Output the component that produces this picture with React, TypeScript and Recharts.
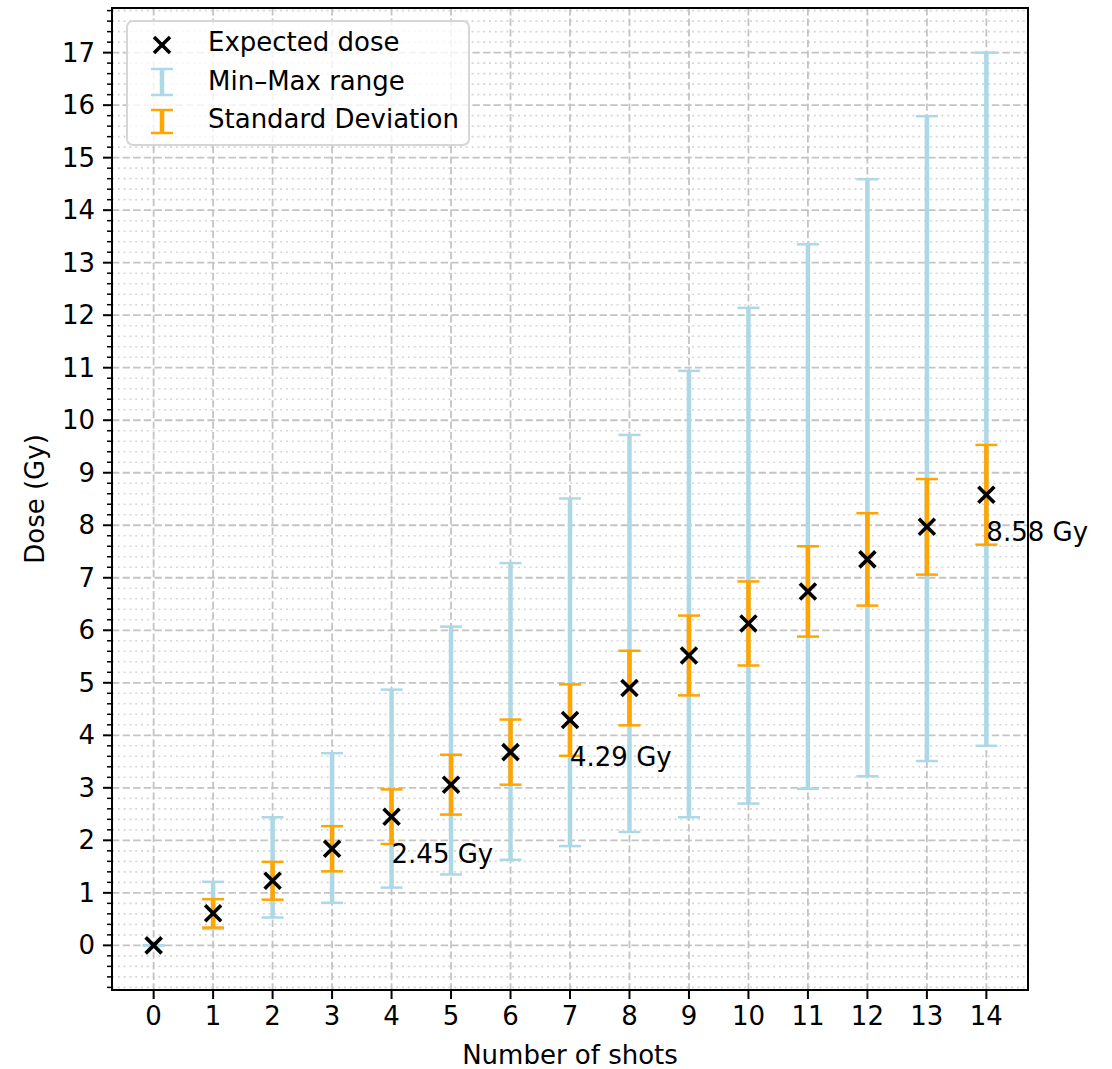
import {
  ScatterChart,
  Scatter,
  XAxis,
  YAxis,
  CartesianGrid,
  ErrorBar,
  ReferenceArea,
} from "recharts"

// values
const shots = [0, 1, 2, 3, 4, 5, 6, 7, 8, 9, 10, 11, 12, 13, 14]
const expectedDose = [0, 0.61, 1.23, 1.84, 2.45, 3.06, 3.68, 4.29, 4.9, 5.52, 6.13, 6.74, 7.35, 7.97, 8.58]
const stdDose = [0, 0.27, 0.36, 0.43, 0.52, 0.57, 0.62, 0.68, 0.71, 0.76, 0.8, 0.86, 0.88, 0.91, 0.95]
const minDose = [0, 0.31, 0.53, 0.81, 1.1, 1.35, 1.63, 1.89, 2.16, 2.44, 2.7, 2.98, 3.22, 3.51, 3.8]
const maxDose = [0, 1.21, 2.44, 3.66, 4.87, 6.07, 7.28, 8.51, 9.72, 10.94, 12.14, 13.35, 14.59, 15.79, 17.0]
const annotatedShots = [4, 7, 14]

const xTicks = [0, 1, 2, 3, 4, 5, 6, 7, 8, 9, 10, 11, 12, 13, 14]
const yMajorTicks = [0, 1, 2, 3, 4, 5, 6, 7, 8, 9, 10, 11, 12, 13, 14, 15, 16, 17]
const xDomain = [-0.7, 14.7]
const yDomain = [-0.85, 17.85]

// minor ticks every 0.2
const yAllTicks: number[] = []
for (let i = -4; i <= 89; i++) yAllTicks.push(Math.round(i * 2) / 10)
const yMinorTicks = yAllTicks.filter((v) => Math.abs(v - Math.round(v)) > 1e-6)

const data = shots.map((s, i) => ({
  x: s,
  y: expectedDose[i],
  range: [expectedDose[i] - minDose[i], maxDose[i] - expectedDose[i]],
  sd: stdDose[i],
}))

const labelData = annotatedShots.map((s) => ({
  x: s,
  y: expectedDose[s],
  text: `${expectedDose[s].toFixed(2)} Gy`,
}))

const FONT = "DejaVu Sans"
const FS = 26
const BLUE = "#add8e6"
const ORANGE = "#ffa500"

const Cross = (props: any) => {
  const { cx, cy } = props
  const h = 8
  return (
    <g stroke="#000" strokeWidth={3.6}>
      <line x1={cx - h} y1={cy - h} x2={cx + h} y2={cy + h} />
      <line x1={cx - h} y1={cy + h} x2={cx + h} y2={cy - h} />
    </g>
  )
}

const AnnotText = (props: any) => {
  const { cx, cy, payload } = props
  return (
    <text x={cx} y={cy + 37} dominantBaseline="central" fontSize={FS} fontFamily={FONT} fill="#000">
      {payload.text}
    </text>
  )
}

const YTick = (props: any) => {
  const { x, y, payload } = props
  const v = payload.value
  const major = Math.abs(v - Math.round(v)) < 1e-6
  const ax = x + 17
  return (
    <g>
      <line x1={ax - (major ? 9 : 5)} x2={ax} y1={y} y2={y} stroke="#000" strokeWidth={major ? 2 : 1.5} />
      {major && (
        <text x={x} y={y} textAnchor="end" dominantBaseline="central" fontSize={FS} fontFamily={FONT} fill="#000">
          {Math.round(v)}
        </text>
      )}
    </g>
  )
}

function LegendBox() {
  const mx = 162
  const tx = 208
  return (
    <svg width={1112} height={1069} style={{ position: "absolute", left: 0, top: 0, pointerEvents: "none" }}>
      <rect x={127} y={21} width={342} height={124} rx={6} fill="rgba(255,255,255,0.8)" stroke="#d6d6d6" strokeWidth={2} />
      <g stroke="#000" strokeWidth={3.6}>
        <line x1={mx - 8} y1={45 - 8} x2={mx + 8} y2={45 + 8} />
        <line x1={mx - 8} y1={45 + 8} x2={mx + 8} y2={45 - 8} />
      </g>
      <g stroke={BLUE}>
        <line x1={mx} x2={mx} y1={69} y2={95} strokeWidth={4.5} />
        <line x1={mx - 11} x2={mx + 11} y1={69} y2={69} strokeWidth={2.5} />
        <line x1={mx - 11} x2={mx + 11} y1={95} y2={95} strokeWidth={2.5} />
      </g>
      <g stroke={ORANGE}>
        <line x1={mx} x2={mx} y1={110} y2={133} strokeWidth={4.5} />
        <line x1={mx - 11} x2={mx + 11} y1={110} y2={110} strokeWidth={2.5} />
        <line x1={mx - 11} x2={mx + 11} y1={133} y2={133} strokeWidth={2.5} />
      </g>
      <g fontSize={FS} fontFamily={FONT} fill="#000" dominantBaseline="central">
        <text x={tx} y={42}>Expected dose</text>
        <text x={tx} y={81}>Min–Max range</text>
        <text x={tx} y={119}>Standard Deviation</text>
      </g>
    </svg>
  )
}

export default function App() {
  return (
    <div style={{ position: "absolute", left: 0, top: 0, width: 1112, height: 1069, fontFamily: FONT, background: "#fff" }}>
      <ScatterChart width={1112} height={1069} margin={{ top: 8, right: 84, bottom: 0, left: 0 }}>
        <CartesianGrid
          horizontalValues={yMinorTicks}
          vertical={false}
          stroke="#d6d6d6"
          strokeWidth={1.6}
          strokeDasharray="2 3.8"
        />
        <CartesianGrid
          horizontalValues={yMajorTicks}
          verticalValues={xTicks}
          stroke="#c4c4c4"
          strokeWidth={1.8}
          strokeDasharray="7.4 3.2"
        />
        <XAxis
          type="number"
          dataKey="x"
          domain={xDomain}
          ticks={xTicks}
          interval={0}
          height={79}
          tickSize={9}
          tickMargin={8}
          axisLine={false}
          tickLine={{ stroke: "#000", strokeWidth: 2 }}
          tick={{ fill: "#000", fontSize: FS, fontFamily: FONT }}
          label={(p: any) => {
            const vb = p.viewBox
            return (
              <text x={vb.x + vb.width / 2} y={1055} textAnchor="middle" dominantBaseline="central" fontSize={FS} fontFamily={FONT} fill="#000">
                Number of shots
              </text>
            )
          }}
        />
        <YAxis
          type="number"
          dataKey="y"
          domain={yDomain}
          ticks={yAllTicks}
          interval={0}
          width={112}
          tickSize={9}
          tickMargin={8}
          axisLine={false}
          tickLine={false}
          tick={<YTick />}
          label={(p: any) => {
            const vb = p.viewBox
            const cx = vb.x + 35
            const cy = vb.y + vb.height / 2
            return (
              <text x={cx} y={cy} transform={`rotate(-90 ${cx} ${cy})`} textAnchor="middle" dominantBaseline="central" fontSize={FS} fontFamily={FONT} fill="#000">
                Dose (Gy)
              </text>
            )
          }}
        />
        <Scatter data={data} shape={<Cross />} isAnimationActive={false}>
          <ErrorBar dataKey="range" direction="y" width={0} stroke={BLUE} strokeWidth={4.5} />
          <ErrorBar dataKey="range" direction="y" width={11} stroke={BLUE} strokeWidth={2.5} />
          <ErrorBar dataKey="sd" direction="y" width={0} stroke={ORANGE} strokeWidth={4.5} />
          <ErrorBar dataKey="sd" direction="y" width={11} stroke={ORANGE} strokeWidth={2.5} />
        </Scatter>
        <Scatter data={labelData} shape={<AnnotText />} isAnimationActive={false} />
        <ReferenceArea
          x1={xDomain[0]}
          x2={xDomain[1]}
          y1={yDomain[0]}
          y2={yDomain[1]}
          ifOverflow="visible"
          fill="none"
          fillOpacity={0}
          stroke="#000"
          strokeWidth={2}
        />
      </ScatterChart>
      <LegendBox />
    </div>
  )
}
